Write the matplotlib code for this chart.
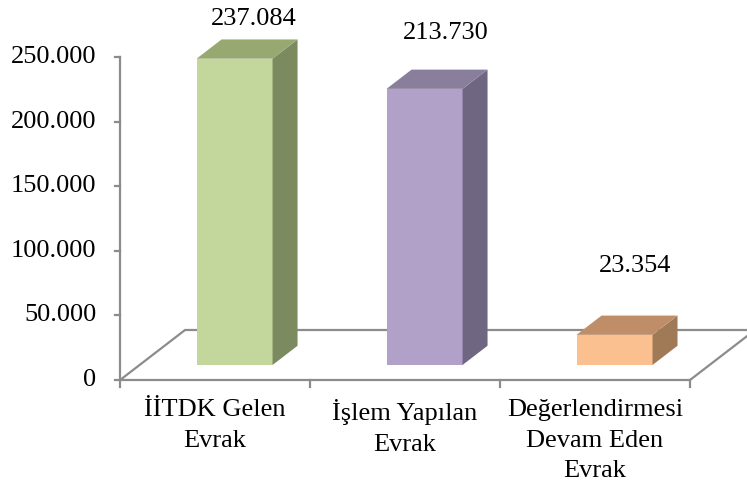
import numpy as np
import matplotlib
matplotlib.use("Agg")
import matplotlib.pyplot as plt
from matplotlib.patches import Polygon

plt.rcParams['font.family'] = ['Liberation Serif', 'DejaVu Serif']

categories = ["İİTDK Gelen\nEvrak", "İşlem Yapılan\nEvrak", "Değerlendirmesi\nDevam Eden\nEvrak"]
values = [237084, 213730, 23354]
value_labels = ["237.084", "213.730", "23.354"]
yticks = [0, 50000, 100000, 150000, 200000, 250000]
ytick_labels = ["0", "50.000", "100.000", "150.000", "200.000", "250.000"]

front_cols = ["#C3D69B", "#B1A1C8", "#FAC090"]
top_cols = ["#98A871", "#8A7E9D", "#BF8E68"]
side_cols = ["#7B8A5F", "#6F6681", "#A07A57"]
label_off = [(-4, 15), (-3, 26), (-3, 36)]   # points, Excel-like placement

# oblique projection for the fake 3-D floor
DX, DV = 0.342, 38700.0          # full floor depth in category / value units
d_front, d_back = 0.30, 0.685    # bar depth inside the floor
half_w = 0.20

def proj(x, v, d):
    return x + d * DX, v + d * DV

fig = plt.figure(figsize=(7.47, 4.87), dpi=100)
ax = fig.add_axes([0, 0, 1, 1])
ax.set_xlim(-1.132, 2.800)
ax.set_ylim(-82817, 294118)
ax.axis("off")

grey = "#8C8C8C"
fs = 19
x0, x1 = -0.5, len(values) - 0.5
# floor
fl = [proj(x0, 0, 0), proj(x0, 0, 1), proj(x1, 0, 1), proj(x1, 0, 0), proj(x0, 0, 0)]
ax.plot([p[0] for p in fl], [p[1] for p in fl], color=grey, lw=1.6, zorder=1)
# value axis
ax.plot([x0, x0], [0, yticks[-1]], color=grey, lw=1.6, zorder=1)
for t, lab in zip(yticks, ytick_labels):
    ax.plot([x0 - 0.026, x0], [t, t], color=grey, lw=1.6, zorder=1)
    ax.annotate(lab, (x0, t), xytext=(-17, 0), textcoords="offset points",
                ha="right", va="center", fontsize=fs)
# category ticks and labels
for k in range(len(values) + 1):
    ax.plot([x0 + k, x0 + k], [0, -5500], color=grey, lw=1.6, zorder=1)
for i, c in enumerate(categories):
    ax.annotate(c, (i, 0), xytext=(0, -14), textcoords="offset points",
                ha="center", va="top", fontsize=fs, linespacing=1.5)

# bars
for i, v in enumerate(values):
    xl, xr = i - half_w, i + half_w
    fr = [proj(xl, 0, d_front), proj(xr, 0, d_front), proj(xr, v, d_front), proj(xl, v, d_front)]
    sd = [proj(xr, 0, d_front), proj(xr, 0, d_back), proj(xr, v, d_back), proj(xr, v, d_front)]
    tp = [proj(xl, v, d_front), proj(xr, v, d_front), proj(xr, v, d_back), proj(xl, v, d_back)]
    ax.add_patch(Polygon(fr, closed=True, fc=front_cols[i], ec="none", zorder=3))
    ax.add_patch(Polygon(sd, closed=True, fc=side_cols[i], ec="none", zorder=3))
    ax.add_patch(Polygon(tp, closed=True, fc=top_cols[i], ec="none", zorder=3))
    lx, ly = proj(i, v, d_back)
    ax.annotate(value_labels[i], (lx, ly), xytext=label_off[i], textcoords="offset points",
                ha="center", va="center", fontsize=fs)

fig.savefig("out.png", dpi=100)
